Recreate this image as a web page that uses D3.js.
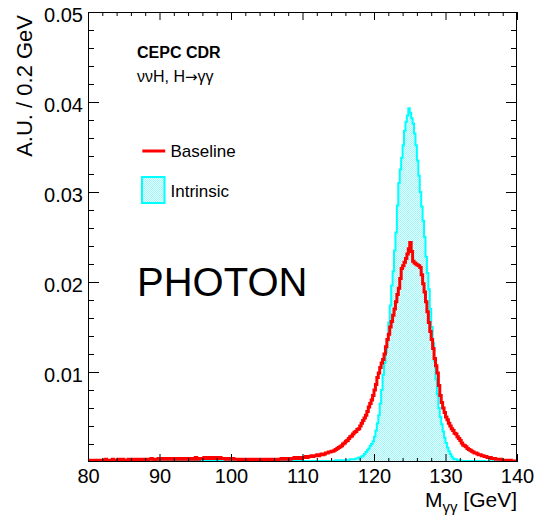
<!DOCTYPE html>
<html>
<head>
<meta charset="utf-8">
<script src="https://cdn.jsdelivr.net/npm/d3@7"></script>
<style>
  body { margin: 0; background: #fff; }
  svg { display: block; font-family: "Liberation Sans", Arial, Helvetica, sans-serif; }
</style>
</head>
<body>
<svg id="chart" width="539" height="521"></svg>
<script>
// Histogram range and binning (0.2 GeV bins from 80 to 140 GeV)
const xDomain = [80, 140];
const yDomain = [0, 0.05];
const binWidth = 0.2;

const xTickLabels = [80, 90, 100, 110, 120, 130, 140];
const yTickLabels = [0.01, 0.02, 0.03, 0.04, 0.05];

// Baseline reconstruction, one value per 0.2 GeV bin (rows of 2 GeV)
const baseline = [
  0.0002,0.0002,0.0001,0.0002,0.0002,0.0001,0.0002,0.0002,0.0002,0.0001, // 80
  0.0002,0.0002,0.0003,0.0002,0.0002,0.0001,0.0002,0.0003,0.0002,0.0002, // 82
  0.0002,0.0003,0.0002,0.0002,0.0003,0.0002,0.0002,0.0002,0.0003,0.0002, // 84
  0.0002,0.0003,0.0002,0.0003,0.0002,0.0002,0.0003,0.0003,0.0002,0.0003, // 86
  0.0003,0.0002,0.0003,0.0003,0.0004,0.0003,0.0002,0.0003,0.0003,0.0004, // 88
  0.0003,0.0003,0.0004,0.0003,0.0003,0.0004,0.0003,0.0003,0.0004,0.0003, // 90
  0.0003,0.0004,0.0003,0.0003,0.0004,0.0003,0.0004,0.0004,0.0003,0.0003, // 92
  0.0004,0.0003,0.0004,0.0004,0.0003,0.0005,0.0004,0.0003,0.0004,0.0004, // 94
  0.0004,0.0005,0.0004,0.0004,0.0005,0.0004,0.0004,0.0005,0.0005,0.0004, // 96
  0.0005,0.0004,0.0005,0.0004,0.0004,0.0004,0.0003,0.0004,0.0004,0.0003, // 98
  0.0003,0.0004,0.0003,0.0003,0.0003,0.0002,0.0003,0.0003,0.0002,0.0003, // 100
  0.0002,0.0003,0.0002,0.0003,0.0002,0.0002,0.0003,0.0002,0.0002,0.0003, // 102
  0.0002,0.0002,0.0003,0.0002,0.0003,0.0003,0.0002,0.0003,0.0003,0.0002, // 104
  0.0003,0.0003,0.0002,0.0003,0.0003,0.0004,0.0003,0.0003,0.0004,0.0003, // 106
  0.0004,0.0003,0.0004,0.0004,0.0005,0.0004,0.0004,0.0005,0.0005,0.0004, // 108
  0.0005,0.0005,0.0006,0.0005,0.0006,0.0006,0.0007,0.0006,0.0007,0.0007, // 110
  0.0008,0.0007,0.0008,0.0009,0.0008,0.0009,0.0010,0.0010,0.0011,0.0011, // 112
  0.0012,0.0012,0.0013,0.0014,0.0015,0.0016,0.0017,0.0018,0.0020,0.0021, // 114
  0.0023,0.0024,0.0026,0.0028,0.0029,0.0031,0.0033,0.0034,0.0036,0.0037, // 116
  0.0040,0.0043,0.0046,0.0049,0.0052,0.0056,0.0061,0.0065,0.0069,0.0074, // 118
  0.0080,0.0086,0.0094,0.0099,0.0105,0.0110,0.0114,0.0120,0.0128,0.0136, // 120
  0.0142,0.0150,0.0156,0.0163,0.0170,0.0178,0.0186,0.0193,0.0204,0.0215, // 122
  0.0218,0.0222,0.0226,0.0231,0.0237,0.0244,0.0234,0.0223,0.0221,0.0220, // 124
  0.0219,0.0218,0.0216,0.0208,0.0198,0.0189,0.0178,0.0167,0.0155,0.0145, // 126
  0.0136,0.0126,0.0115,0.0107,0.0099,0.0085,0.0074,0.0066,0.0060,0.0055, // 128
  0.0050,0.0047,0.0043,0.0040,0.0037,0.0035,0.0032,0.0031,0.0028,0.0026, // 130
  0.0024,0.0021,0.0019,0.0018,0.0017,0.0015,0.0014,0.0013,0.0012,0.0011, // 132
  0.0010,0.0010,0.0009,0.0008,0.0008,0.0007,0.0007,0.0006,0.0006,0.0005, // 134
  0.0005,0.0005,0.0004,0.0004,0.0004,0.0003,0.0003,0.0003,0.0003,0.0002, // 136
  0.0002,0.0002,0.0002,0.0002,0.0001,0.0002,0.0001,0.0001,0.0001,0.0001  // 138
];

// Intrinsic resolution, same binning
const intrinsic = [
  0.0001,0.0001,0.0000,0.0001,0.0001,0.0001,0.0000,0.0001,0.0001,0.0001, // 80
  0.0001,0.0000,0.0001,0.0001,0.0001,0.0001,0.0001,0.0000,0.0001,0.0001, // 82
  0.0001,0.0001,0.0001,0.0000,0.0001,0.0001,0.0001,0.0001,0.0000,0.0001, // 84
  0.0001,0.0001,0.0000,0.0001,0.0001,0.0001,0.0001,0.0001,0.0001,0.0000, // 86
  0.0001,0.0001,0.0001,0.0001,0.0002,0.0001,0.0001,0.0001,0.0001,0.0001, // 88
  0.0001,0.0002,0.0001,0.0001,0.0001,0.0001,0.0002,0.0001,0.0001,0.0001, // 90
  0.0001,0.0001,0.0002,0.0001,0.0001,0.0001,0.0001,0.0002,0.0001,0.0001, // 92
  0.0002,0.0001,0.0001,0.0001,0.0002,0.0001,0.0001,0.0001,0.0001,0.0002, // 94
  0.0001,0.0001,0.0002,0.0001,0.0001,0.0002,0.0001,0.0001,0.0001,0.0001, // 96
  0.0001,0.0002,0.0001,0.0001,0.0001,0.0001,0.0001,0.0001,0.0002,0.0001, // 98
  0.0001,0.0001,0.0001,0.0001,0.0000,0.0001,0.0001,0.0001,0.0001,0.0001, // 100
  0.0001,0.0000,0.0001,0.0001,0.0001,0.0001,0.0001,0.0000,0.0001,0.0001, // 102
  0.0001,0.0001,0.0001,0.0001,0.0001,0.0000,0.0001,0.0001,0.0001,0.0001, // 104
  0.0001,0.0001,0.0001,0.0001,0.0001,0.0001,0.0001,0.0001,0.0001,0.0001, // 106
  0.0001,0.0001,0.0001,0.0001,0.0001,0.0001,0.0001,0.0001,0.0001,0.0001, // 108
  0.0001,0.0001,0.0001,0.0001,0.0001,0.0001,0.0001,0.0001,0.0001,0.0001, // 110
  0.0001,0.0001,0.0001,0.0001,0.0001,0.0001,0.0001,0.0001,0.0001,0.0001, // 112
  0.0001,0.0001,0.0001,0.0002,0.0001,0.0002,0.0002,0.0002,0.0002,0.0002, // 114
  0.0002,0.0002,0.0002,0.0003,0.0003,0.0003,0.0003,0.0004,0.0004,0.0005, // 116
  0.0005,0.0006,0.0007,0.0009,0.0011,0.0013,0.0015,0.0018,0.0020,0.0023, // 118
  0.0028,0.0035,0.0043,0.0052,0.0065,0.0080,0.0097,0.0110,0.0122,0.0135, // 120
  0.0155,0.0174,0.0196,0.0212,0.0235,0.0255,0.0285,0.0310,0.0325,0.0338, // 122
  0.0352,0.0368,0.0378,0.0385,0.0393,0.0388,0.0382,0.0376,0.0365,0.0352, // 124
  0.0335,0.0318,0.0300,0.0284,0.0268,0.0250,0.0228,0.0210,0.0192,0.0170, // 126
  0.0150,0.0132,0.0112,0.0092,0.0075,0.0060,0.0050,0.0042,0.0034,0.0027, // 128
  0.0021,0.0016,0.0012,0.0009,0.0006,0.0004,0.0003,0.0003,0.0002,0.0002, // 130
  0.0002,0.0001,0.0001,0.0001,0.0001,0.0001,0.0001,0.0001,0.0000,0.0001, // 132
  0.0001,0.0000,0.0001,0.0001,0.0000,0.0001,0.0000,0.0001,0.0000,0.0000, // 134
  0.0001,0.0000,0.0000,0.0001,0.0000,0.0000,0.0000,0.0001,0.0000,0.0000, // 136
  0.0000,0.0000,0.0001,0.0000,0.0000,0.0000,0.0000,0.0000,0.0000,0.0000  // 138
];

const svg = d3.select("#chart");
const frame = { left: 88, right: 517, top: 12, bottom: 462 };

const x = d3.scaleLinear().domain(xDomain).range([frame.left, frame.right]);
const y = d3.scaleLinear().domain(yDomain).range([frame.bottom, frame.top]);

// hatched cyan fill
const defs = svg.append("defs");
const pat = defs.append("pattern")
  .attr("id", "hatch").attr("patternUnits", "userSpaceOnUse")
  .attr("width", 4).attr("height", 4);
pat.append("rect").attr("width", 4).attr("height", 4).attr("fill", "#e8fefe");
[[0,0],[1,1],[2,2],[3,3],[2,0],[0,2],[3,1],[1,3]].forEach(([px, py]) =>
  pat.append("rect").attr("x", px).attr("y", py).attr("width", 1).attr("height", 1)
     .attr("fill", "#9ef6f6"));

defs.append("clipPath").attr("id", "plotClip").append("rect")
  .attr("x", frame.left).attr("y", frame.top)
  .attr("width", frame.right - frame.left).attr("height", frame.bottom - frame.top);

// step points: lower bin edge + value, closed with the upper edge of the last bin
function stepPoints(values) {
  const pts = values.map((v, i) => [xDomain[0] + i * binWidth, v]);
  pts.push([xDomain[0] + values.length * binWidth, values[values.length - 1]]);
  return pts;
}

const line = d3.line().x(d => x(d[0])).y(d => y(d[1])).curve(d3.curveStepAfter);
const area = d3.area().x(d => x(d[0])).y0(y(0)).y1(d => y(d[1])).curve(d3.curveStepAfter);

const plot = svg.append("g").attr("clip-path", "url(#plotClip)");

const intrinsicPts = stepPoints(intrinsic);
plot.append("path").datum(intrinsicPts)
  .attr("d", area).attr("fill", "url(#hatch)");
plot.append("path").datum(intrinsicPts)
  .attr("d", line).attr("fill", "none").attr("stroke", "#00ffff").attr("stroke-width", 2);

plot.append("path").datum(stepPoints(baseline))
  .attr("d", line).attr("fill", "none").attr("stroke", "#ff0000").attr("stroke-width", 3);

// axes (ticks pointing inward on all four sides)
const xMinor = d3.range(xDomain[0], xDomain[1] + 0.001, 2).filter(v => v % 10 !== 0);
const yMinor = d3.range(0.002, 0.0501, 0.002).filter(v => Math.abs(v * 100 - Math.round(v * 100)) > 1e-6);

function styleAxis(g) {
  g.select(".domain").remove();
  g.selectAll("line").attr("stroke", "#000").attr("stroke-width", 1);
}

svg.append("g").attr("transform", `translate(0,${frame.bottom})`)
  .call(d3.axisBottom(x).tickValues(xTickLabels).tickSize(-8).tickSizeOuter(0).tickPadding(7).tickFormat(d3.format("d")))
  .call(styleAxis)
  .call(g => g.selectAll("text").attr("font-size", 20).attr("fill", "#000")
    .attr("font-family", "'Liberation Sans', Arial, sans-serif"));
svg.append("g").attr("transform", `translate(0,${frame.bottom})`)
  .call(d3.axisBottom(x).tickValues(xMinor).tickSize(-4).tickSizeOuter(0).tickFormat(""))
  .call(styleAxis);
svg.append("g").attr("transform", `translate(0,${frame.top})`)
  .call(d3.axisTop(x).tickValues(xTickLabels).tickSize(-8).tickSizeOuter(0).tickFormat(""))
  .call(styleAxis);
svg.append("g").attr("transform", `translate(0,${frame.top})`)
  .call(d3.axisTop(x).tickValues(xMinor).tickSize(-4).tickSizeOuter(0).tickFormat(""))
  .call(styleAxis);

svg.append("g").attr("transform", `translate(${frame.left},0)`)
  .call(d3.axisLeft(y).tickValues(yTickLabels).tickSize(-11).tickSizeOuter(0).tickPadding(5).tickFormat(d3.format(".2f")))
  .call(styleAxis)
  .call(g => g.selectAll("text").attr("font-size", 20).attr("fill", "#000").attr("dy", "0.47em")
    .attr("font-family", "'Liberation Sans', Arial, sans-serif"));
svg.append("g").attr("transform", `translate(${frame.left},0)`)
  .call(d3.axisLeft(y).tickValues(yMinor).tickSize(-6).tickSizeOuter(0).tickFormat(""))
  .call(styleAxis);
svg.append("g").attr("transform", `translate(${frame.right},0)`)
  .call(d3.axisRight(y).tickValues(yTickLabels).tickSize(-11).tickSizeOuter(0).tickFormat(""))
  .call(styleAxis);
svg.append("g").attr("transform", `translate(${frame.right},0)`)
  .call(d3.axisRight(y).tickValues(yMinor).tickSize(-6).tickSizeOuter(0).tickFormat(""))
  .call(styleAxis);

// frame
svg.append("rect")
  .attr("x", frame.left + 0.5).attr("y", frame.top + 0.5)
  .attr("width", frame.right - frame.left - 1).attr("height", frame.bottom - frame.top - 1)
  .attr("fill", "none").attr("stroke", "#000").attr("stroke-width", 1);

// axis titles
svg.append("text")
  .attr("transform", "translate(31.5,15) rotate(-90)")
  .attr("text-anchor", "end").attr("font-size", 22)
  .text("A.U. / 0.2 GeV");

const xt = svg.append("text").attr("x", frame.right).attr("y", 507)
  .attr("text-anchor", "end").attr("font-size", 21);
xt.append("tspan").text("M");
xt.append("tspan").attr("font-size", 15).attr("dy", 5).text("γγ");
xt.append("tspan").attr("dy", -5).text(" [GeV]");

// labels inside the frame
svg.append("text").attr("x", 137).attr("y", 58).attr("font-size", 16)
  .attr("font-weight", "bold").text("CEPC CDR");
const proc = svg.append("text").attr("x", 137).attr("y", 82).attr("font-size", 16);
proc.append("tspan").text("ννH, H");
proc.append("tspan").attr("font-family", "'DejaVu Sans', sans-serif").attr("font-size", 15).text("→");
proc.append("tspan").text("γγ");

svg.append("text").attr("x", 137).attr("y", 296).attr("font-size", 40)
  .text("PHOTON");

// legend
svg.append("line").attr("x1", x(87.6)).attr("x2", x(90.8))
  .attr("y1", 151).attr("y2", 151)
  .attr("stroke", "#ff0000").attr("stroke-width", 3);
svg.append("text").attr("x", 170.5).attr("y", 157).attr("font-size", 17).text("Baseline");

svg.append("rect").attr("x", 142).attr("y", 177).attr("width", 22.5).attr("height", 26)
  .attr("fill", "url(#hatch)").attr("stroke", "#00ffff").attr("stroke-width", 2);
svg.append("text").attr("x", 170.5).attr("y", 197).attr("font-size", 17).text("Intrinsic");
</script>
</body>
</html>
